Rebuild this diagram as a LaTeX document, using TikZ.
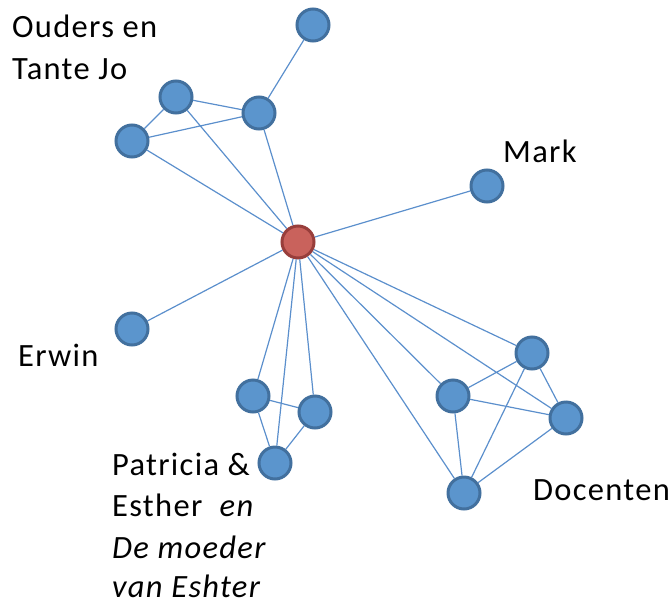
\documentclass[tikz,border=0pt]{standalone}
\usepackage{fontspec}
\setmainfont{Carlito}[LetterSpace=4.0]
\definecolor{bfill}{HTML}{5B95CD}
\definecolor{bdraw}{HTML}{42709E}
\definecolor{rfill}{HTML}{C9625C}
\definecolor{rdraw}{HTML}{983E3B}
\definecolor{edgec}{HTML}{5B8FCC}
\tikzset{
  pnode/.style={circle, fill=bfill, draw=bdraw, line width=3pt, minimum size=32pt, inner sep=0pt},
  cnode/.style={pnode, fill=rfill, draw=rdraw},
  lbl/.style={anchor=base west, inner sep=0pt, font=\fontsize{32.5}{40}\selectfont},
  edge/.style={draw=edgec, line width=1.2pt}
}
\begin{document}
\begin{tikzpicture}[x=1pt,y=-1pt]
\useasboundingbox (0,0) rectangle (671,605);
\node[pnode] (top) at (313,25) {};
\node[pnode] (a) at (176,97) {};
\node[pnode] (b) at (259,113) {};
\node[pnode] (c) at (132,141) {};
\node[pnode] (mark) at (487,186) {};
\node[cnode] (ego) at (298,242) {};
\node[pnode] (erwin) at (132,329) {};
\node[pnode] (p1) at (253,396) {};
\node[pnode] (p2) at (315,412) {};
\node[pnode] (p3) at (275,463) {};
\node[pnode] (d1) at (532,353) {};
\node[pnode] (d2) at (453,396) {};
\node[pnode] (d3) at (566,418) {};
\node[pnode] (d4) at (464,493) {};
\path[edge] (top)--(b) (a)--(b) (a)--(c) (c)--(b)
  (a)--(ego) (b)--(ego) (c)--(ego)
  (mark)--(ego) (erwin)--(ego)
  (ego)--(p1) (ego)--(p2) (ego)--(p3)
  (p1)--(p2) (p1)--(p3) (p2)--(p3)
  (ego)--(d1) (ego)--(d2) (ego)--(d3) (ego)--(d4)
  (d2)--(d1) (d2)--(d3) (d2)--(d4) (d1)--(d3) (d1)--(d4) (d3)--(d4);
\node[lbl] (l1) at (12,37) {Ouders en};
\node[lbl] (l2) at (12,79) {Tante Jo};
\node[lbl] (l3) at (503,162) {Mark};
\node[lbl] (l4) at (18,366) {Erwin};
\node[lbl] (l5) at (112,475) {Patricia \&};
\node[lbl] (l6) at (112,516) {Esther \ \textit{en}};
\node[lbl] (l7) at (112,558) {\textit{De moeder}};
\node[lbl] (l8) at (112,597) {\textit{van Eshter}};
\node[lbl] (l9) at (533,500) {Docenten};
\end{tikzpicture}
\end{document}
